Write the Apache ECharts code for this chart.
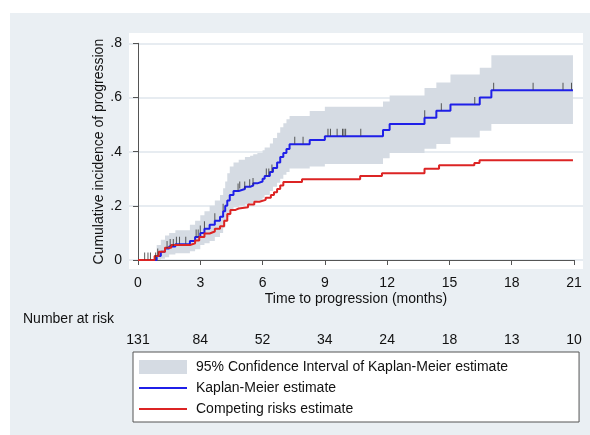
<!DOCTYPE html>
<html>
<head>
<meta charset="utf-8">
<script src="https://cdn.jsdelivr.net/npm/echarts@6/dist/echarts.min.js"></script>
<style>
  html, body { margin: 0; padding: 0; background: #fff; }
  #main { width: 590px; height: 435px; }
</style>
</head>
<body>
<div id="main"></div>
<script>
// Kaplan-Meier cumulative incidence (step values hold from each time onward)
const kmTime = [0, 0.9, 1.1, 1.3, 1.5, 1.8, 2.5, 2.75, 3.0, 3.2, 3.45, 3.7, 3.95, 4.1, 4.2, 4.3, 4.42, 4.6, 4.85, 5.15, 5.4, 5.55, 5.75, 6.0, 6.1, 6.35, 6.5, 6.7, 6.85, 7.0, 7.15, 7.3, 8.27, 9.0, 11.8, 12.12, 13.8, 14.37, 15.05, 16.46, 17.02, 20.95];
const kmValue = [0, 0.015, 0.03, 0.042, 0.05, 0.058, 0.07, 0.085, 0.1, 0.115, 0.13, 0.145, 0.16, 0.18, 0.2, 0.22, 0.24, 0.255, 0.262, 0.27, 0.275, 0.283, 0.29, 0.3, 0.31, 0.325, 0.34, 0.36, 0.38, 0.395, 0.41, 0.427, 0.443, 0.457, 0.48, 0.502, 0.525, 0.551, 0.574, 0.6, 0.627, 0.627];
// 95% CI of the KM estimate, same time points
const ciLower = [0, 0, 0.005, 0.01, 0.02, 0.025, 0.032, 0.04, 0.055, 0.062, 0.07, 0.085, 0.1, 0.12, 0.14, 0.16, 0.18, 0.195, 0.2, 0.205, 0.21, 0.215, 0.22, 0.23, 0.24, 0.255, 0.27, 0.285, 0.3, 0.315, 0.325, 0.338, 0.345, 0.354, 0.376, 0.395, 0.411, 0.428, 0.452, 0.477, 0.502, 0.502];
const ciUpper = [0, 0.055, 0.075, 0.09, 0.1, 0.11, 0.13, 0.145, 0.165, 0.18, 0.2, 0.22, 0.24, 0.265, 0.29, 0.32, 0.345, 0.36, 0.37, 0.38, 0.385, 0.39, 0.395, 0.405, 0.415, 0.43, 0.45, 0.47, 0.49, 0.505, 0.52, 0.532, 0.55, 0.566, 0.585, 0.607, 0.635, 0.655, 0.685, 0.71, 0.756, 0.756];
// competing risks estimate
const crTime = [0, 0.8, 1.0, 1.3, 1.6, 2.5, 2.75, 2.95, 3.2, 3.45, 3.7, 3.95, 4.15, 4.3, 4.45, 4.7, 4.85, 5.3, 5.6, 5.85, 6.15, 6.4, 6.55, 6.7, 6.85, 7.0, 7.9, 10.7, 11.75, 13.8, 14.5, 16.2, 16.45, 20.95];
const crValue = [0, 0.015, 0.03, 0.045, 0.055, 0.062, 0.072, 0.085, 0.098, 0.105, 0.115, 0.125, 0.145, 0.17, 0.185, 0.19, 0.195, 0.205, 0.215, 0.222, 0.23, 0.24, 0.25, 0.262, 0.275, 0.288, 0.298, 0.31, 0.32, 0.337, 0.35, 0.358, 0.368, 0.368];
// censoring marks on the KM curve
const censorTimes = [0.32, 0.48, 0.6, 0.85, 0.95, 1.4, 1.55, 1.7, 1.85, 2.0, 2.3, 2.8, 2.9, 3.0, 3.2, 3.7, 4.1, 4.82, 4.9, 5.14, 5.38, 5.54, 6.18, 6.3, 6.45, 7.55, 7.95, 9.15, 9.27, 9.59, 9.85, 9.92, 10.0, 10.73, 13.81, 14.61, 16.22, 17.13, 19.03, 20.47, 20.88];
// number at risk under x ticks
const riskTicks = [0, 3, 6, 9, 12, 15, 18, 21];
const atRisk = [131, 84, 52, 34, 24, 18, 13, 10];

const ciName = '95% Confidence Interval of Kaplan-Meier estimate';
const kmName = 'Kaplan-Meier estimate';
const crName = 'Competing risks estimate';

const FONT = 'Liberation Sans, Arial, sans-serif';
const BAND = '#d5dbe3';
const BLUE = '#1f1fe8';
const RED = '#dc2424';
const LINE_ICON = 'path://M0,0H48V2H0Z';

const pairs = (t, v) => t.map((x, i) => [x, v[i]]);
// KM value at time t (for censor ticks)
const kmAt = t => {
  let v = 0;
  kmTime.forEach((x, i) => { if (x <= t) v = kmValue[i]; });
  return v;
};

// step-shaped CI polygon through the axis scales
const renderBand = (params, api) => {
  const pts = [];
  kmTime.forEach((t, i) => {
    if (i > 0) pts.push(api.coord([t, ciUpper[i - 1]]));
    pts.push(api.coord([t, ciUpper[i]]));
  });
  for (let i = kmTime.length - 1; i >= 0; i--) {
    pts.push(api.coord([kmTime[i], ciLower[i]]));
    if (i > 0) pts.push(api.coord([kmTime[i], ciLower[i - 1]]));
  }
  return { type: 'polygon', shape: { points: pts }, style: { fill: BAND } };
};

const option = {
  animation: false,
  textStyle: { fontFamily: FONT, color: '#111' },
  graphic: [
    { type: 'rect', z: -20, shape: { x: 10, y: 13, width: 580, height: 422 }, style: { fill: '#eaeff3' } },
    { type: 'rect', z: -10, shape: { x: 129, y: 33, width: 454, height: 236 }, style: { fill: '#ffffff' } },
  ],
  title: {
    text: 'Number at risk',
    left: 18,
    top: 307,
    textStyle: { fontSize: 14, fontWeight: 'normal', fontFamily: FONT, color: '#111' },
  },
  legend: {
    orient: 'vertical',
    left: 133,
    top: 352,
    padding: [8, 71, 6, 6],
    itemWidth: 48,
    itemHeight: 14,
    itemGap: 7,
    backgroundColor: '#fff',
    borderColor: '#555',
    borderWidth: 1,
    textStyle: { fontSize: 14, fontFamily: FONT, color: '#111', padding: [0, 0, 0, 4] },
    data: [
      { name: ciName, icon: 'rect', itemStyle: { color: BAND, borderWidth: 0 } },
      { name: kmName, icon: LINE_ICON, itemStyle: { color: BLUE, borderWidth: 0 } },
      { name: crName, icon: LINE_ICON, itemStyle: { color: RED, borderWidth: 0 } },
    ],
  },
  grid: [
    { left: 138, right: 16, top: 43.3, bottom: 175 }, // data grid
    { left: 129, right: 7, top: 43.3, bottom: 175 }, // only for gridlines across the white panel
  ],
  xAxis: [
    {
      type: 'value', min: 0, max: 21, interval: 3, offset: 9,
      name: 'Time to progression (months)', nameLocation: 'middle', nameGap: 23, nameMoveOverlap: false,
      nameTextStyle: { fontSize: 14, color: '#111' },
      axisLine: { lineStyle: { color: '#555', width: 1 } },
      axisTick: { length: 5, lineStyle: { color: '#555' } },
      axisLabel: { fontSize: 14, margin: 7, color: '#111' },
      splitLine: { show: false },
    },
    {
      // number-at-risk row
      type: 'value', min: 0, max: 21, interval: 3, position: 'bottom', offset: 70,
      axisLine: { show: false }, axisTick: { show: false }, splitLine: { show: false },
      axisLabel: {
        fontSize: 14, margin: 3, color: '#111',
        formatter: v => { const i = riskTicks.indexOf(v); return i >= 0 ? String(atRisk[i]) : ''; },
      },
    },
    { gridIndex: 1, type: 'value', min: 0, max: 1, show: false },
  ],
  yAxis: [
    {
      type: 'value', min: 0, max: 0.8, interval: 0.2, offset: 9,
      name: 'Cumulative incidence of progression', nameLocation: 'middle', nameGap: 23, nameMoveOverlap: false,
      nameTextStyle: { fontSize: 14, color: '#111' },
      axisLine: { show: true, lineStyle: { color: '#555', width: 1 } },
      axisTick: { show: true, length: 5, lineStyle: { color: '#555' } },
      axisLabel: {
        fontSize: 14, margin: 7, color: '#111',
        formatter: v => (v === 0 ? '0' : v.toFixed(1).replace(/^0/, '')),
      },
      splitLine: { show: false },
    },
    {
      gridIndex: 1, type: 'value', min: 0, max: 0.8, interval: 0.2,
      axisLine: { show: false }, axisTick: { show: false }, axisLabel: { show: false },
      splitLine: { show: true, lineStyle: { color: '#dfe6ec', width: 1.5 } },
    },
  ],
  series: [
    {
      name: ciName, type: 'custom', silent: true, clip: true,
      itemStyle: { color: BAND },
      renderItem: renderBand,
      encode: { x: 0, y: 1 },
      data: [[0, 0]],
    },
    {
      name: kmName, type: 'line', step: 'end', symbol: 'none',
      itemStyle: { color: BLUE },
      lineStyle: { color: BLUE, width: 2 },
      data: pairs(kmTime, kmValue),
    },
    {
      name: crName, type: 'line', step: 'end', symbol: 'none',
      itemStyle: { color: RED },
      lineStyle: { color: RED, width: 2 },
      data: pairs(crTime, crValue),
    },
    {
      name: 'censored', type: 'scatter', symbol: 'rect', symbolSize: [1, 7], symbolOffset: [0, -4],
      itemStyle: { color: '#333' }, silent: true, z: 4,
      data: censorTimes.map(t => [t, kmAt(t)]),
    },
  ],
};

const myChart = echarts.init(document.getElementById('main'));
myChart.setOption(option);
</script>
</body>
</html>
